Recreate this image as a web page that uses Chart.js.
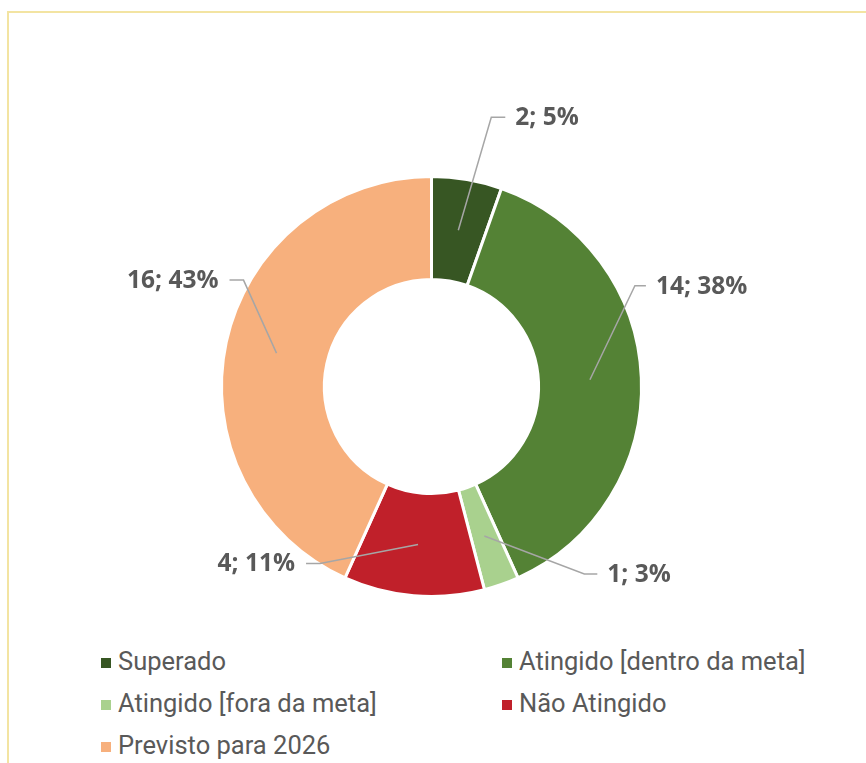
<!DOCTYPE html>
<html>
<head>
  <meta charset="utf-8">
  <title>Status das metas</title>
  <script src="https://cdn.jsdelivr.net/npm/chart.js"></script>
  <style>
    body { margin: 0; background: #fff; width: 866px; height: 763px; overflow: hidden; position: relative; font-family: Roboto, Arial, sans-serif; }
    #frame { position: absolute; left: 7px; top: 11px; right: -10px; bottom: -10px; border-top: 2px solid #f3e4a2; border-left: 2px solid #f3e4a2; }
    #chart { position: absolute; left: 0; top: 0; }
    #legend { position: absolute; left: 101px; top: 640px; display: grid; grid-template-columns: 401px auto; }
    .item { display: flex; align-items: center; height: 42px; font-size: 25.5px; color: #595959; white-space: nowrap; }
    .box { width: 10px; height: 10px; margin-right: 7px; transform: translateY(2px); }
  </style>
</head>
<body>
<div id="frame"></div>
<canvas id="chart" width="866" height="640"></canvas>
<div id="legend"></div>

<script>
  const categories = ['Superado', 'Atingido [dentro da meta]', 'Atingido [fora da meta]', 'Não Atingido', 'Previsto para 2026'];
  const counts = [2, 14, 1, 4, 16];
  const colors = ['#375623', '#548235', '#a9d18e', '#c0202a', '#f7b07d'];

  // leader line per slice: elbow offset from the slice middle, then a short horizontal run
  const leaders = [
    { dx: 33, dy: -113, run: 14 },
    { dx: 45, dy: -94, run: 11 },
    { dx: 100, dy: 38, run: 13 },
    { dx: -98, dy: 19, run: -14 },
    { dx: -33, dy: -73, run: -14 }
  ];

  const total = counts.reduce((a, b) => a + b, 0);

  const leaderLabels = {
    id: 'leaderLabels',
    afterDatasetsDraw(chart) {
      const ctx = chart.ctx;
      const arcs = chart.getDatasetMeta(0).data;
      ctx.save();
      ctx.font = 'bold 24.5px "Open Sans", sans-serif';
      ctx.textBaseline = 'middle';
      arcs.forEach((arc, i) => {
        const p = arc.tooltipPosition();
        const l = leaders[i];
        const ex = p.x + l.dx, ey = p.y + l.dy;
        const hx = ex + l.run;
        ctx.strokeStyle = '#a6a6a6';
        ctx.lineWidth = 1.5;
        ctx.beginPath();
        ctx.moveTo(p.x, p.y);
        ctx.lineTo(ex, ey);
        ctx.lineTo(hx, ey);
        ctx.stroke();
        const pct = Math.round(counts[i] / total * 100);
        ctx.fillStyle = '#595959';
        ctx.textAlign = l.run > 0 ? 'left' : 'right';
        ctx.fillText(counts[i] + '; ' + pct + '%', hx + (l.run > 0 ? 10 : -11), ey + 1);
      });
      ctx.restore();
    }
  };

  new Chart(document.getElementById('chart'), {
    type: 'doughnut',
    data: {
      labels: categories,
      datasets: [{
        data: counts,
        backgroundColor: colors,
        borderColor: '#ffffff',
        borderWidth: 3
      }]
    },
    options: {
      responsive: false,
      animation: false,
      cutout: '51%',
      layout: { padding: { top: 175, bottom: 42, left: 220, right: 223 } },
      plugins: {
        legend: { display: false },
        tooltip: { enabled: false }
      }
    },
    plugins: [leaderLabels]
  });

  const legend = document.getElementById('legend');
  categories.forEach((name, i) => {
    const item = document.createElement('div');
    item.className = 'item';
    item.innerHTML = '<span class="box" style="background:' + colors[i] + '"></span>' + name;
    legend.appendChild(item);
  });
</script>
</body>
</html>
